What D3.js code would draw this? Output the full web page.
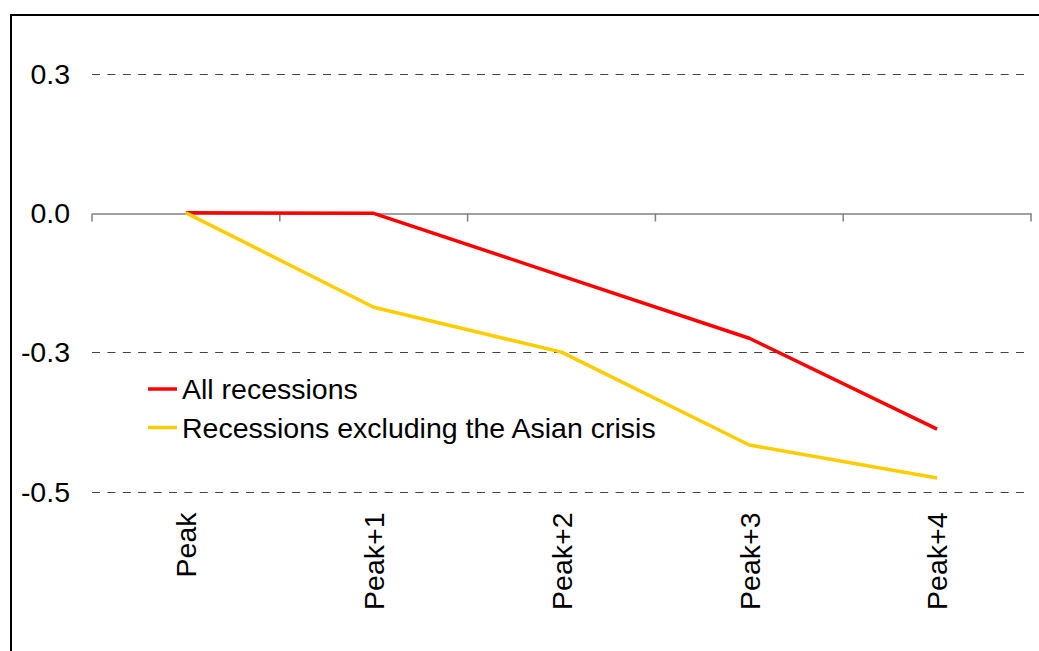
<!DOCTYPE html>
<html>
<head>
<meta charset="utf-8">
<script src="https://cdn.jsdelivr.net/npm/d3@7"></script>
<style>
  html, body { margin: 0; padding: 0; background: #fff; }
  svg { display: block; }
  text { font-family: "Liberation Sans", Arial, sans-serif; fill: #000; }
</style>
</head>
<body>
<svg id="chart" width="1039" height="651"></svg>
<script>
// ---- data ----
const categories = ["Peak", "Peak+1", "Peak+2", "Peak+3", "Peak+4"];
const allRecessions = [0.0, -0.001, -0.122, -0.243, -0.419];
const exAsianCrisis = [0.0, -0.183, -0.270, -0.450, -0.514];
const seriesNames = ["All recessions", "Recessions excluding the Asian crisis"];
const seriesColors = ["#ff0000", "#ffcc00"];
const yTickValues = [0.27, 0.0, -0.27, -0.54];
const yTickLabels = ["0.3", "0.0", "-0.3", "-0.5"];

// ---- layout ----
const svg = d3.select("#chart");
const W = 1039, H = 651;
const plot = { left: 92, right: 1031 };
const FS = 28.5;

// frame
svg.append("rect")
  .attr("x", 11).attr("y", 15)
  .attr("width", W).attr("height", H)
  .attr("fill", "none").attr("stroke", "#000").attr("stroke-width", 2);

const x = d3.scaleBand().domain(categories).range([plot.left, plot.right]).padding(0);
const y = d3.scaleLinear().domain([-0.54, 0.27]).range([491.5, 73.5]);

// gridlines (dashed) for non-zero ticks
svg.append("g").selectAll("line")
  .data(yTickValues.filter(v => v !== 0))
  .join("line")
  .attr("x1", plot.left).attr("x2", plot.right)
  .attr("y1", d => Math.round(y(d)) + 0.5).attr("y2", d => Math.round(y(d)) + 0.5)
  .attr("stroke", "#444").attr("stroke-width", 1)
  .attr("stroke-dasharray", "8 7.4");

// y labels
svg.append("g").selectAll("text")
  .data(yTickValues)
  .join("text")
  .attr("x", 70)
  .attr("y", d => y(d))
  .attr("dy", "0.36em")
  .attr("text-anchor", "end")
  .attr("font-size", FS)
  .text((d, i) => yTickLabels[i]);

// zero axis with category ticks
const y0 = Math.round(y(0)) + 0.5;
const xAxis = d3.axisBottom(x).tickSize(0).tickFormat("");
const axisG = svg.append("g").attr("transform", `translate(0,${y0})`).call(xAxis);
axisG.select(".domain").attr("stroke", "#808080").attr("stroke-width", 1.5);
axisG.selectAll(".tick").remove();
const boundaries = categories.map(c => x(c)).concat([x(categories[categories.length - 1]) + x.bandwidth()]);
axisG.selectAll("line.bt")
  .data(boundaries)
  .join("line")
  .attr("class", "bt")
  .attr("x1", d => d).attr("x2", d => d)
  .attr("y1", 0).attr("y2", 8)
  .attr("stroke", "#808080").attr("stroke-width", 1.5);

// category labels (rotated)
svg.append("g").selectAll("text")
  .data(categories)
  .join("text")
  .attr("transform", d => `translate(${x(d) + x.bandwidth() / 2},512.5) rotate(-90)`)
  .attr("dy", "0.36em")
  .attr("text-anchor", "end")
  .attr("font-size", FS)
  .text(d => d);

// lines
const line = d3.line()
  .x((d, i) => x(categories[i]) + x.bandwidth() / 2)
  .y(d => y(d));

[allRecessions, exAsianCrisis].forEach((s, i) => {
  svg.append("path")
    .datum(s)
    .attr("d", line)
    .attr("fill", "none")
    .attr("stroke", seriesColors[i])
    .attr("stroke-width", 3.5)
    .attr("stroke-linejoin", "round");
});

// legend
const legend = svg.append("g");
seriesNames.forEach((name, i) => {
  const ly = 389 + i * 38.5;
  legend.append("line")
    .attr("x1", 148).attr("x2", 177)
    .attr("y1", ly).attr("y2", ly)
    .attr("stroke", seriesColors[i]).attr("stroke-width", 3.5);
  legend.append("text")
    .attr("x", 182).attr("y", ly)
    .attr("dy", "0.36em")
    .attr("font-size", FS)
    .text(name);
});
</script>
</body>
</html>
